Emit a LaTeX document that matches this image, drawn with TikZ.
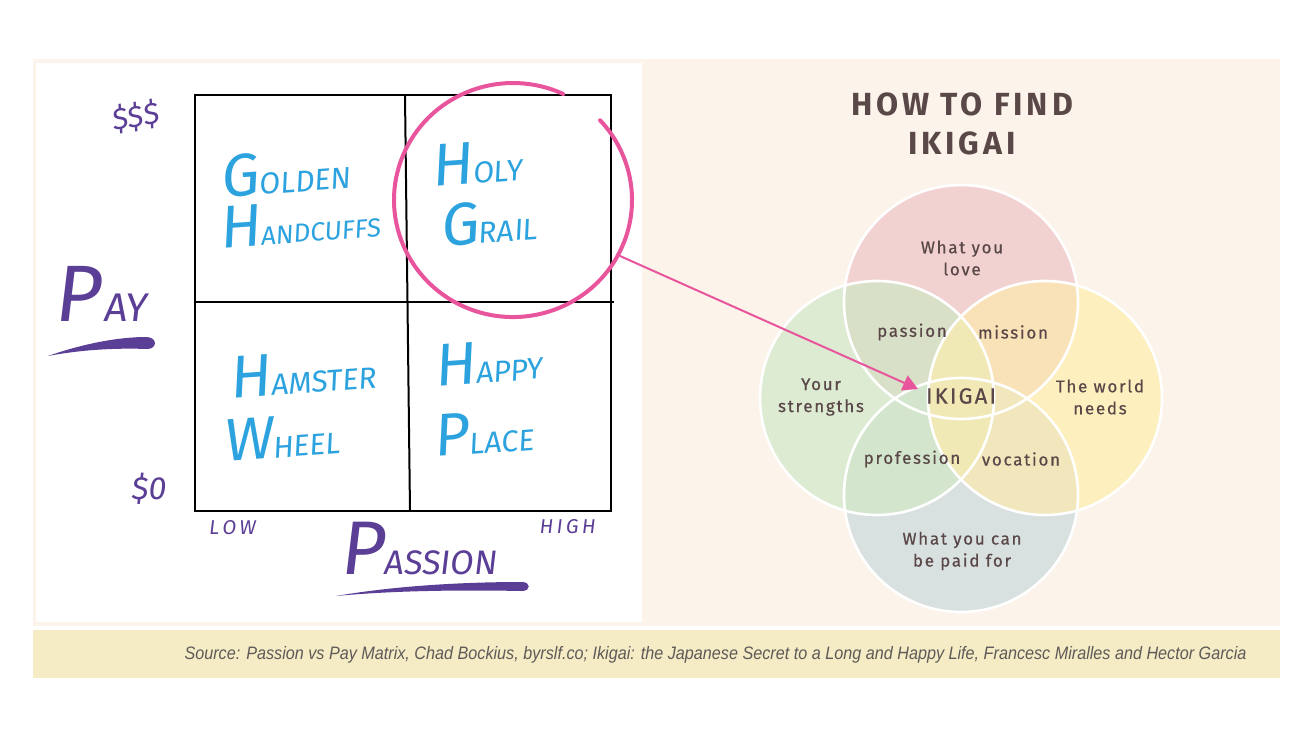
\documentclass[tikz,border=0pt]{standalone}
\usepackage{fontspec}
\setmainfont{Fira Sans}
\newfontfamily\vennfont{Fira Sans}[LetterSpace=10, FakeBold=0.6]
\newfontfamily\titlefont{Fira Sans}[LetterSpace=12]
\newfontfamily\handfont{Fira Sans}[FakeSlant=0.12]
\newfontfamily\srcfont{Liberation Sans}
\usetikzlibrary{arrows.meta}
\definecolor{cream}{HTML}{FCF3EA}
\definecolor{srcband}{HTML}{F5EBC5}
\definecolor{srctext}{HTML}{5E5A58}
\definecolor{hblue}{HTML}{2CA3DE}
\definecolor{hpurple}{HTML}{5B3E96}
\definecolor{gpink}{HTML}{E9559C}
\definecolor{vtext}{HTML}{5A4849}
\definecolor{vtop}{HTML}{F2D1D1}
\definecolor{vleft}{HTML}{DDEBD3}
\definecolor{vright}{HTML}{FEEFBE}
\definecolor{vbot}{HTML}{D9E0E0}
\definecolor{vpassion}{HTML}{D9E0C8}
\definecolor{vmission}{HTML}{F9E2B8}
\definecolor{vprof}{HTML}{D3E6CD}
\definecolor{vvoc}{HTML}{F2E7BC}
\definecolor{vcenter}{HTML}{F1E9B5}
\newcommand{\hw}[4]{{\fontsize{#1}{#1}\selectfont #2}{\fontsize{#3}{#3}\selectfont #4}}
\tikzset{
  hand/.style={font=\handfont, inner sep=0pt},
  bluehand/.style={hand, text=hblue, rotate=4},
  purplehand/.style={hand, text=hpurple},
  vlabel/.style={font=\vennfont\fontsize{8.5}{10}\selectfont, text=vtext, align=center, inner sep=0pt},
  gridline/.style={line width=1pt, black},
}
\begin{document}
\begin{tikzpicture}[x=0.5pt,y=-0.5pt]
\useasboundingbox (0,0) rectangle (1312,738);
\fill[white] (0,0) rectangle (1312,738);
% panels
\fill[cream] (33,59) rectangle (1280,626);
\fill[white] (36,63) rectangle (642,622);
\fill[srcband] (33,630) rectangle (1280,678);
\node[font=\srcfont\itshape\fontsize{9}{10}\selectfont, text=srctext, inner sep=0pt] (source) at (715.5,655)
  {\resizebox{531pt}{\height}{Source: Passion vs Pay Matrix, Chad Bockius, byrslf.co; Ikigai: the Japanese Secret to a Long and Happy Life, Francesc Miralles and Hector Garcia}};

% grid
\draw[gridline] (195,95) rectangle (611,511);
\draw[gridline] (405,96) -- (410,511);
\draw[gridline] (196,302) -- (614,302);

% quadrant labels
\node[bluehand] (golden) at (285,172) {\hw{30}{G}{15}{OLDEN}};
\node[bluehand] (handcuffs) at (299,222) {\hw{30}{H}{13}{ANDCUFFS}};
\node[bluehand] (holy) at (476,163) {\hw{30}{H}{15}{OLY}};
\node[bluehand] (grail) at (488,222) {\hw{30}{G}{15}{RAIL}};
\node[bluehand] (hamster) at (302,373) {\hw{30}{H}{15}{AMSTER}};
\node[bluehand] (wheel) at (281,437) {\hw{30}{W}{15}{HEEL}};
\node[bluehand] (happy) at (488,362) {\hw{30}{H}{15}{APPY}};
\node[bluehand] (place) at (483,433) {\hw{30}{P}{15}{LACE}};

% axes labels
\node[purplehand, rotate=10] (high) at (135,117) {\fontsize{15}{15}\selectfont\$\$\$};
\node[purplehand] (zero) at (148,489) {\fontsize{16}{16}\selectfont\$0};
\node[purplehand] (low) at (232,528) {\fontsize{10}{10}\selectfont L\,O\,W};
\node[purplehand] (highp) at (567,527) {\fontsize{10}{10}\selectfont H\,I\,G\,H};
\node[purplehand] (pay) at (100,294) {\hw{40}{P\kern2pt}{20}{AY}};
\node[purplehand] (passion) at (418,549) {\hw{38}{P}{17}{ASSION}};
\fill[hpurple] (48,356) .. controls (85,343) and (120,337) .. (146,337) .. controls (157,337) and (158,348) .. (148,349) .. controls (120,348) and (85,349) .. (48,356) -- cycle;
\fill[hpurple] (336,596) .. controls (400,585) and (470,582) .. (522,582) .. controls (531,582) and (531,591) .. (522,591) .. controls (470,590) and (400,590) .. (336,596) -- cycle;

% Venn diagram
\coordinate (ctop) at (961,302);
\coordinate (cleft) at (877,398);
\coordinate (cright) at (1045,398);
\coordinate (cbot) at (961,495);
\def\R{58.5pt}
\fill[vtop] (ctop) circle[radius=\R];
\fill[vleft] (cleft) circle[radius=\R];
\fill[vright] (cright) circle[radius=\R];
\fill[vbot] (cbot) circle[radius=\R];
\begin{scope}\clip (ctop) circle[radius=\R]; \fill[vpassion] (cleft) circle[radius=\R]; \fill[vmission] (cright) circle[radius=\R]; \end{scope}
\begin{scope}\clip (cbot) circle[radius=\R]; \fill[vprof] (cleft) circle[radius=\R]; \fill[vvoc] (cright) circle[radius=\R]; \end{scope}
\begin{scope}\clip (cleft) circle[radius=\R]; \fill[vcenter] (cright) circle[radius=\R]; \end{scope}
\draw[white, line width=1.3pt] (ctop) circle[radius=\R] (cleft) circle[radius=\R] (cright) circle[radius=\R] (cbot) circle[radius=\R];

\node[font=\titlefont\bfseries\fontsize{16}{19.5}\selectfont, text=vtext, align=center] (title) at (962,124) {HOW TO FIND\\IKIGAI};
\node[vlabel] (love) at (962,258) {What you\\[1pt]love};
\node[vlabel] (passionv) at (912,332) {passion};
\node[vlabel] (mission) at (1013,332) {mission};
\node[vlabel] (strengths) at (821,397) {Your\\[1pt]strengths};
\node[vlabel] (world) at (1100,397) {The world\\[1pt]needs};
\node[vlabel, font=\vennfont\fontsize{11}{12}\selectfont] (ikigai) at (961,396) {IKIGAI};
\node[vlabel] (profession) at (912,459) {profession};
\node[vlabel] (vocation) at (1021,459) {vocation};
\node[vlabel] (paid) at (962,551) {What you can\\[1pt]be paid for};

% Holy grail circle and arrow
\coordinate (grailstart) at (563.3,94);
\draw[gpink, line width=2pt, line cap=round] (grailstart) arc[start angle=65, end angle=403, x radius=59.5pt, y radius=58.5pt];
\coordinate (grailedge) at (620,256);
\coordinate (arrowtip) at (918,389);
\draw[gpink, line width=1pt, -{Triangle[length=7.5pt,width=8pt]}] (grailedge) -- (arrowtip);
\end{tikzpicture}
\end{document}
